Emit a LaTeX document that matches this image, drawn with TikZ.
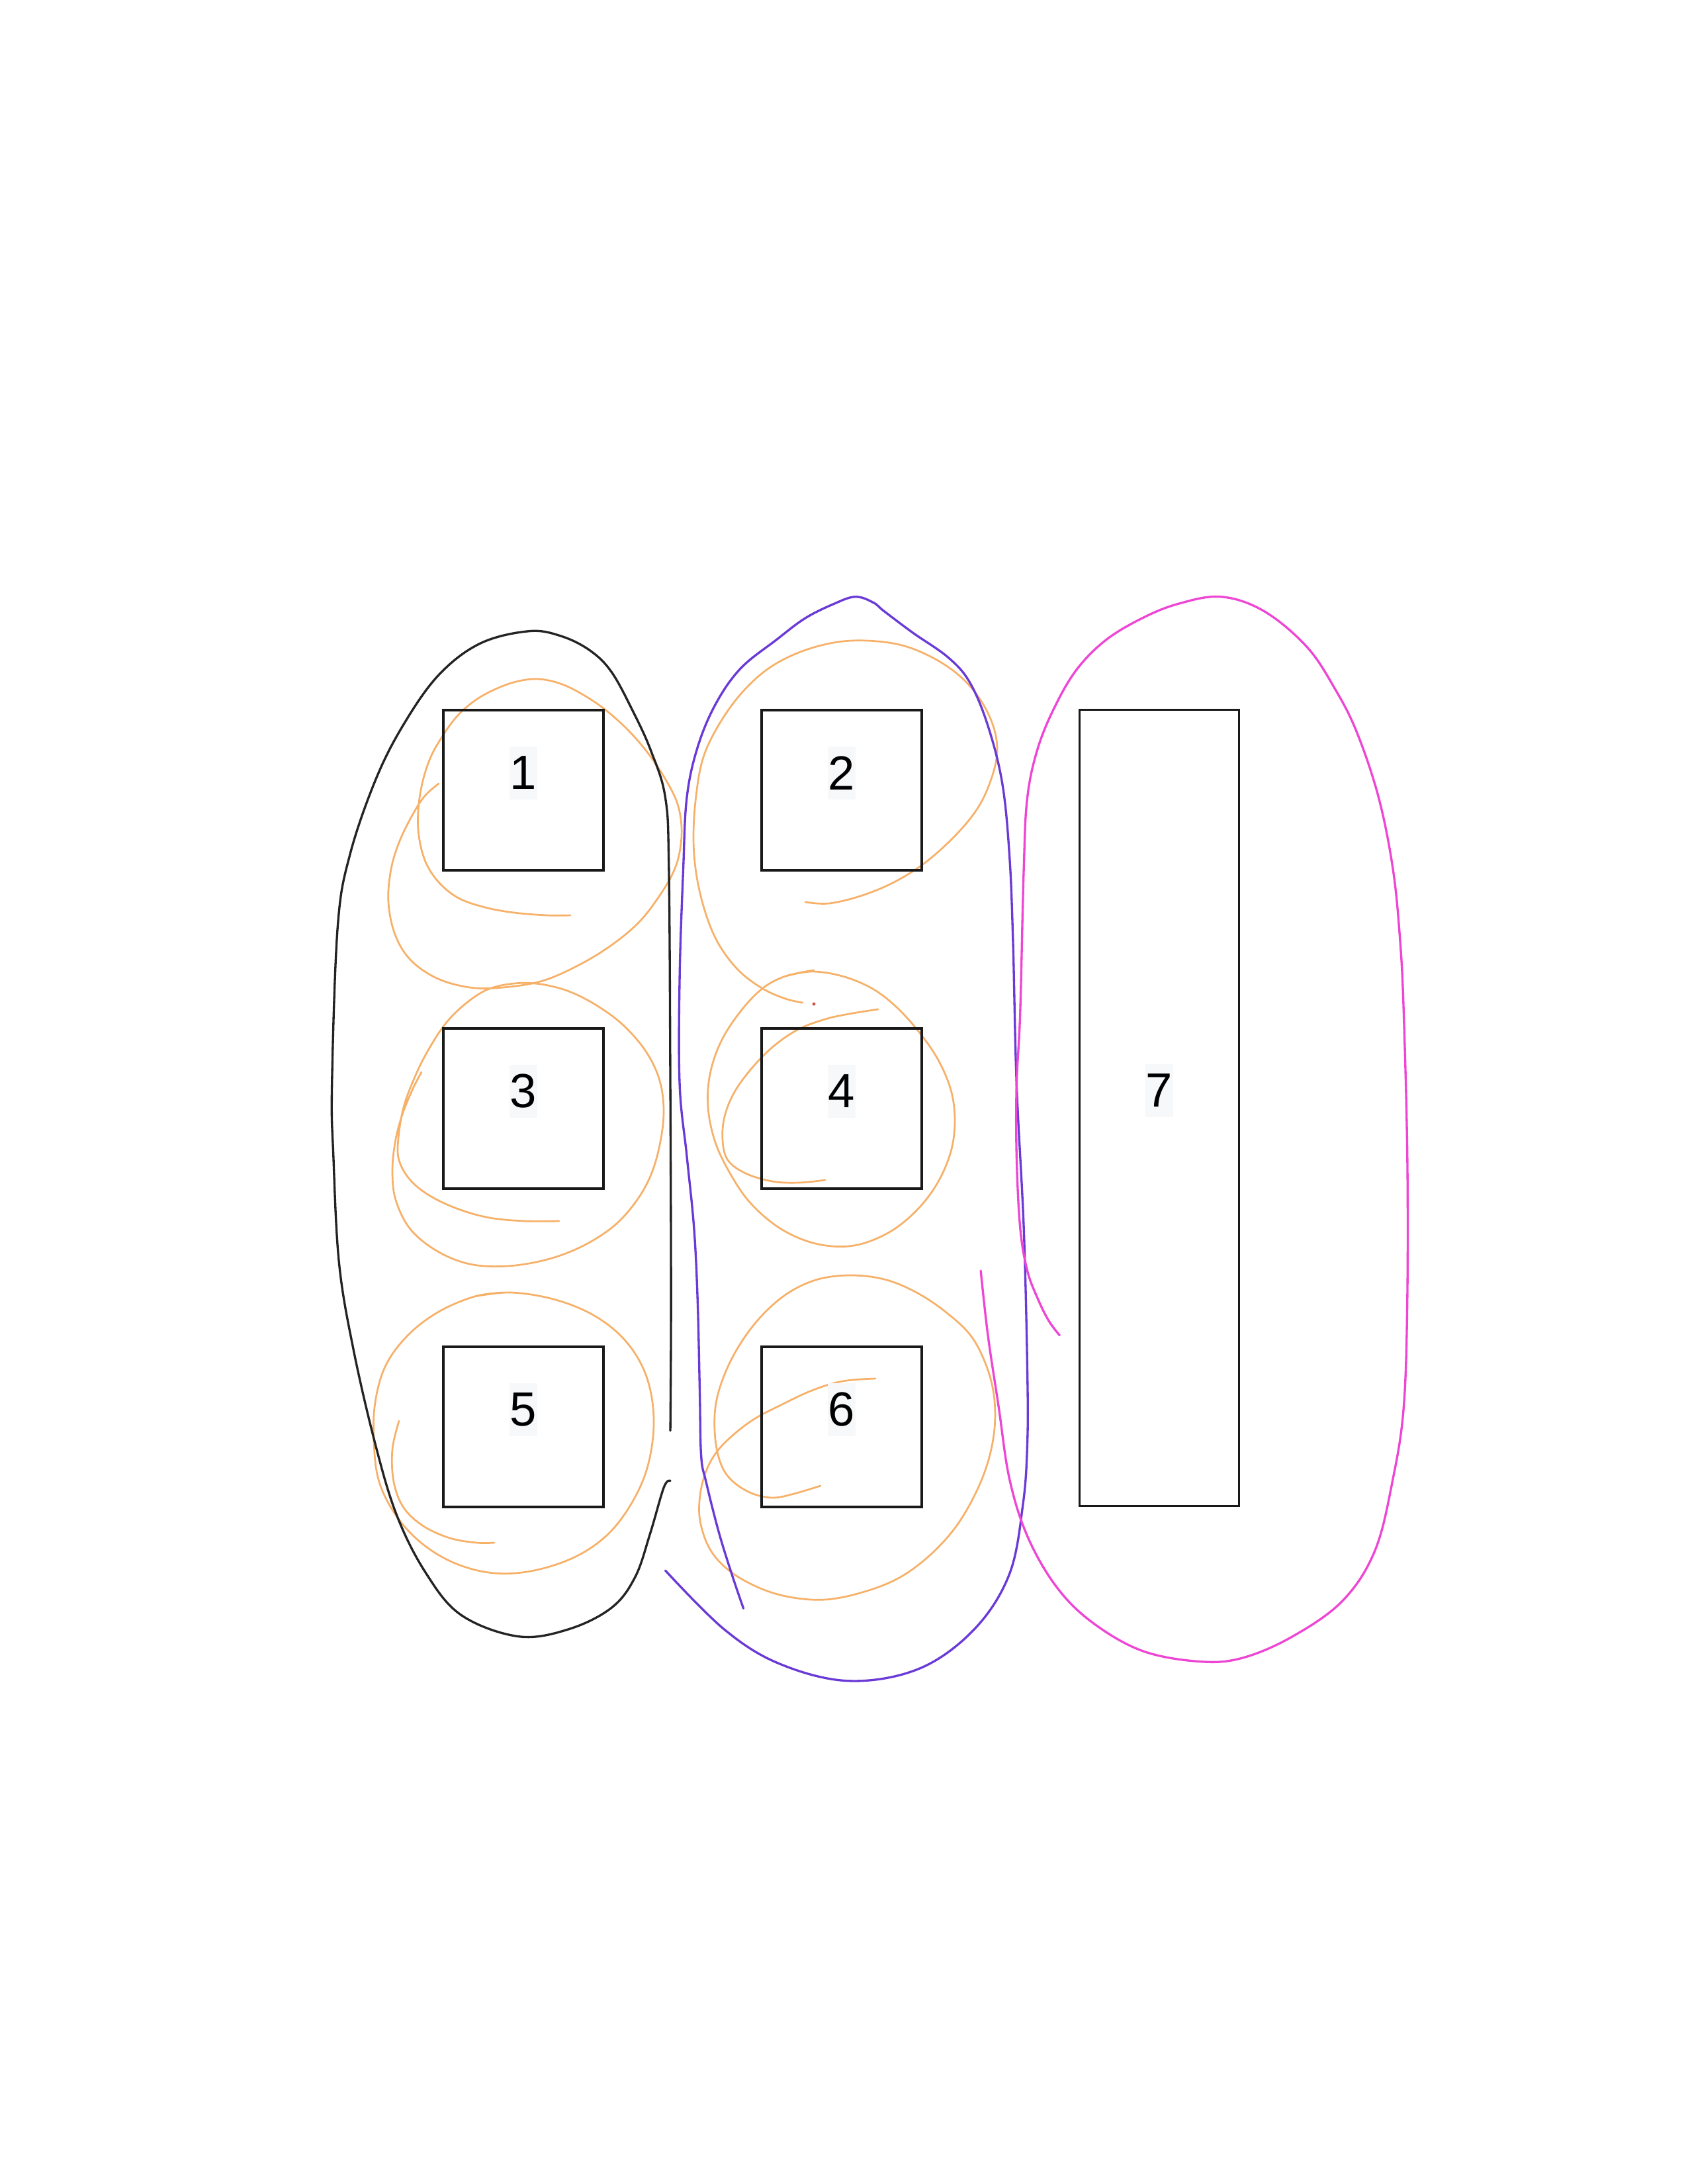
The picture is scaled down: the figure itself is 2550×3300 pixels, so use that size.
\documentclass[tikz,border=0pt]{standalone}
\usepackage{fontspec}
\setmainfont{Liberation Sans}
\definecolor{orangec}{RGB}{246,176,104}
\definecolor{purplec}{RGB}{106,58,214}
\definecolor{magentac}{RGB}{238,70,212}
\definecolor{blackc}{RGB}{35,35,35}
\definecolor{labelbg}{RGB}{246,248,250}
\definecolor{dotred}{RGB}{200,90,80}
\tikzset{
  box/.style={draw=black!90, line width=0.9pt, inner sep=0pt, minimum width=58.08pt, minimum height=58.08pt},
  tallbox/.style={box, minimum width=57.84pt, minimum height=288.7pt},
  num/.style={font=\fontsize{17.4}{20}\selectfont, fill=labelbg, inner sep=0pt, minimum width=10pt, minimum height=19.2pt},
  hand/.style={line width=0.8pt, line cap=round, line join=round},
  orangeline/.style={draw=orangec, line width=0.65pt, line cap=round, line join=round},
}
\begin{document}
\begin{tikzpicture}[x=0.24pt,y=-0.24pt]
\useasboundingbox[fill=white] (0,0) rectangle (2550,3300);

% ---------- orange scribbles ----------
% loop around 1
\draw[orangeline] plot[smooth, tension=0.6] coordinates {(862,1383) (827,1383) (777,1379) (733,1371) (693,1357) (663,1333) (643,1302) (633,1263) (632,1225) (638,1184) (650,1146) (667,1115) (690,1083) (717,1059) (747,1042) (780,1030) (813,1026) (847,1033) (880,1049) (913,1071) (947,1101) (977,1135) (1003,1173) (1023,1212) (1030,1250) (1027,1288) (1017,1319) (997,1353) (967,1392) (927,1426) (877,1457) (820,1482) (760,1492) (710,1492) (660,1478) (620,1450) (597,1412) (587,1364) (590,1319) (600,1281) (617,1243) (640,1205) (663,1184)};
% loop around 3
\draw[orangeline] plot[smooth, tension=0.6] coordinates {(845,1845) (793,1845) (740,1840) (693,1827) (650,1807) (620,1783) (603,1753) (602,1720) (610,1673) (627,1627) (647,1587) (673,1547) (703,1517) (737,1495) (777,1486) (817,1487) (860,1498) (903,1520) (943,1550) (977,1590) (997,1633) (1003,1680) (997,1730) (983,1777) (960,1817) (927,1853) (880,1883) (827,1903) (767,1913) (710,1910) (660,1890) (620,1857) (598,1813) (593,1770) (597,1727) (607,1687) (623,1647) (637,1620)};
% loop around 5
\draw[orangeline] plot[smooth, tension=0.6] coordinates {(717,1959) (773,1953) (840,1964) (900,1989) (947,2028) (977,2080) (988,2144) (980,2211) (957,2267) (920,2317) (870,2352) (807,2373) (747,2377) (690,2363) (640,2334) (600,2292) (573,2239) (565,2179) (567,2119) (583,2063) (617,2017) (663,1982) (717,1959) (760,1953)};
\draw[orangeline] plot[smooth, tension=0.6] coordinates {(603,2147) (593,2190) (595,2239) (610,2278) (640,2306) (680,2324) (720,2331) (747,2331)};
% loop around 2
\draw[orangeline] plot[smooth, tension=0.6] coordinates {(1217,1363) (1253,1365) (1303,1353) (1353,1332) (1400,1302) (1447,1259) (1480,1217) (1500,1171) (1507,1132) (1500,1094) (1480,1055) (1450,1021) (1410,994) (1363,975) (1310,968) (1260,971) (1207,986) (1160,1011) (1120,1048) (1087,1094) (1063,1144) (1052,1202) (1048,1267) (1053,1325) (1067,1382) (1087,1428) (1117,1467) (1153,1494) (1187,1509) (1213,1515)};
\fill[dotred] (1230,1517) circle (2.5);
% loop around 4
\draw[orangeline] plot[smooth, tension=0.6] coordinates {(1247,1783) (1207,1787) (1167,1785) (1127,1773) (1100,1753) (1092,1723) (1095,1687) (1110,1650) (1137,1613) (1170,1580) (1207,1555) (1247,1540) (1283,1532) (1327,1525)};
\draw[orangeline] plot[smooth, tension=0.6] coordinates {(1187,1475) (1227,1468) (1273,1475) (1317,1493) (1353,1520) (1387,1557) (1417,1600) (1437,1647) (1443,1693) (1437,1740) (1417,1787) (1387,1827) (1347,1860) (1300,1880) (1257,1883) (1213,1873) (1170,1850) (1130,1813) (1100,1767) (1080,1723) (1070,1673) (1073,1623) (1090,1573) (1120,1527) (1153,1493) (1187,1475) (1230,1466)};
% loop around 6
\draw[orangeline] plot[smooth, tension=0.6] coordinates {(1323,2083) (1273,2087) (1227,2101) (1180,2123) (1140,2144) (1107,2169) (1083,2194) (1067,2223) (1058,2259) (1058,2298) (1073,2341) (1103,2374) (1147,2399) (1193,2413) (1247,2417) (1303,2406) (1357,2385) (1403,2352) (1443,2309) (1473,2259) (1493,2209) (1503,2158) (1502,2108) (1490,2062) (1467,2018) (1430,1983) (1387,1954) (1340,1934) (1290,1927) (1240,1932) (1197,1950) (1160,1979) (1127,2018) (1100,2065) (1083,2115) (1080,2162) (1087,2205) (1103,2234) (1133,2255) (1167,2263) (1200,2257) (1240,2245)};

% ---------- boxes ----------
\node[box] (b1) at (791,1194) {};
\node[box] (b2) at (1272,1194) {};
\node[box] (b3) at (791,1675) {};
\node[box] (b4) at (1272,1675) {};
\node[box] (b5) at (791,2156) {};
\node[box] (b6) at (1272,2156) {};
\node[tallbox] (b7) at (1752,1674) {};
\node[num] (l1) at (791,1168) {1};
\node[num] (l2) at (1272,1168) {2};
\node[num] (l3) at (791,1649) {3};
\node[num] (l4) at (1272,1649) {4};
\node[num] (l5) at (791,2130) {5};
\node[num] (l6) at (1272,2130) {6};
\node[num] (l7) at (1752,1648) {7};

% ---------- group outlines ----------
\begin{scope}[shift={(480,880)}, scale=1.0834]
\draw[hand, blackc] plot[smooth, tension=0.6] coordinates {(492,1183) (493,1000) (492,700) (490,400) (485,300) (465,235) (440,180) (410,125) (380,95) (340,75) (295,68) (227,85) (169,129) (120,198) (81,275) (45,380) (28,480) (20,700) (22,800) (30,950) (50,1070) (80,1200) (110,1300) (150,1380) (200,1440) (280,1470) (350,1460) (410,1430) (443,1387) (464,1326) (483,1262) (492,1253)};
\draw[hand, purplec] plot[smooth, tension=0.6] coordinates {(594,1431) (579,1387) (560,1326) (542,1255) (535,1218) (533,1126) (530,1000) (525,900) (515,800) (505,700) (505,550) (510,400) (515,300) (530,230) (555,170) (590,120) (640,80) (680,50) (720,30) (750,20) (775,28) (790,40) (830,70) (880,105) (910,140) (935,200) (955,280) (965,380) (970,500) (975,700) (985,900) (990,1100) (990,1200) (984,1285) (965,1383) (916,1460) (839,1515) (741,1532) (644,1508) (567,1460) (485,1378)};
\draw[hand, magentac] plot[smooth, tension=0.6] coordinates {(1035,1050) (1020,1030) (1005,1000) (990,960) (980,900) (975,800) (975,700) (980,600) (985,400) (990,300) (1005,230) (1030,170) (1060,120) (1100,80) (1150,50) (1200,30) (1260,20) (1320,40) (1380,90) (1420,150) (1450,210) (1480,300) (1500,400) (1510,500) (1515,600) (1520,800) (1520,1000) (1515,1150) (1500,1250) (1475,1350) (1430,1420) (1360,1470) (1290,1500) (1230,1505) (1150,1490) (1080,1450) (1030,1400) (990,1330) (965,1250) (950,1150) (935,1050) (925,960)};
\end{scope}
\end{tikzpicture}
\end{document}
